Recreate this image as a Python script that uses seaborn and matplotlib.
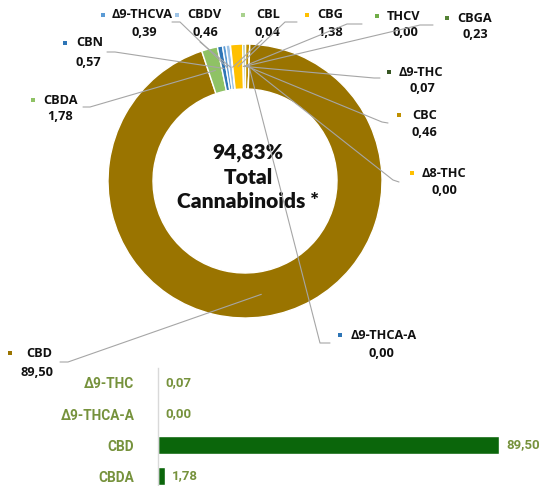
import matplotlib
matplotlib.use('Agg')
import matplotlib.pyplot as plt
import seaborn as sns
import pandas as pd
import numpy as np

# donut slices, clockwise from 12 o'clock
names = ['Δ9-THC', 'CBC', 'Δ8-THC', 'Δ9-THCA-A', 'CBD', 'CBDA', 'CBN',
         'Δ9-THCVA', 'CBDV', 'CBL', 'CBG', 'THCV', 'CBGA']
values = [0.07, 0.46, 0.00, 0.00, 89.50, 1.78, 0.57, 0.39, 0.46, 0.04, 1.38, 0.00, 0.23]
total_text = ['94,83%', 'Total', 'Cannabinoids *']

# small bar chart below
bar_names = ['Δ9-THC', 'Δ9-THCA-A', 'CBD', 'CBDA']
bar_values = [0.07, 0.00, 89.50, 1.78]

colors = {
    'Δ9-THC': '#375623', 'CBC': '#bf9000', 'Δ8-THC': '#ffc000',
    'Δ9-THCA-A': '#2e75b6', 'CBD': '#9a7400', 'CBDA': '#8fc265',
    'CBN': '#2e75b6', 'Δ9-THCVA': '#5b9bd5', 'CBDV': '#9dc3e6',
    'CBL': '#a9d18e', 'CBG': '#ffc000', 'THCV': '#70ad47', 'CBGA': '#548235',
}

# label placement in pixels: marker x, y, name x, value centre x, value y,
# leader line start points (stub)
label_pos = {
    'CBD':       (10, 353, 26, 37, 372, [(60, 362), (68, 362)]),
    'CBDA':      (33, 100, 43, 60, 116, [(83, 107), (90, 107)]),
    'CBN':       (65, 43, 76, 88, 62, [(107, 52), (115, 52)]),
    'Δ9-THCVA':  (103, 15, 112, 144, 32, [(172, 22), (180, 22)]),
    'CBDV':      (177, 15, 187, 205, 32, [(200, 42)]),
    'CBL':       (243, 15, 256, 267, 32, [(262, 40)]),
    'CBG':       (307, 15, 317, 330, 32, [(297, 22), (285, 22)]),
    'THCV':      (377, 16, 387, 405, 33, [(362, 24), (347, 24)]),
    'CBGA':      (447, 18, 457, 475, 35, [(433, 25), (420, 25)]),
    'Δ9-THC':    (389, 72, 399, 422, 88, [(380, 78), (374, 78)]),
    'CBC':       (399, 115, 412, 424, 132, [(388, 123), (382, 122)]),
    'Δ8-THC':    (412, 173, 422, 444, 190, [(399, 182), (393, 180)]),
    'Δ9-THCA-A': (340, 335, 351, 381, 353, [(330, 343), (320, 343)]),
}

def fmt(v):
    return f'{v:.2f}'.replace('.', ',')

sns.set_style('white')
plt.rcParams['font.family'] = ['Open Sans', 'DejaVu Sans']

fig = plt.figure(figsize=(5.41, 4.86), dpi=100)
ax = fig.add_axes([0, 0, 1, 1])

cx, cy, r_out, ring = 245, 181, 137, 45
wedges, _ = ax.pie(values, colors=[colors[n] for n in names], startangle=-90,
                   counterclock=True, radius=r_out, center=(cx, cy),
                   wedgeprops=dict(width=ring, edgecolor='white', linewidth=1))
ax.set_xlim(0, 541)
ax.set_ylim(486, 0)
ax.set_aspect('auto')
ax.axis('off')

# labels + leader lines
r_mid = r_out - ring / 2
for n, w in zip(names, wedges):
    mx, my, nx, vx, vy, stub = label_pos[n]
    t = np.deg2rad((w.theta1 + w.theta2) / 2)
    px, py = cx + r_mid * np.cos(t), cy + r_mid * np.sin(t)
    xs = [p[0] for p in stub] + [px]
    ys = [p[1] for p in stub] + [py]
    ax.plot(xs, ys, color='#a6a6a6', lw=0.8, zorder=4)
    ax.scatter([mx], [my], marker='s', s=10, color=colors[n], zorder=5, linewidths=0)
    ax.text(nx, my, n, fontsize=9.2, fontweight='bold', va='center', ha='left', color='#111111')
    ax.text(vx, vy, fmt(values[names.index(n)]), fontsize=9.2, fontweight='bold',
            va='center', ha='center', color='#111111')

for txt, y in zip(total_text, [152, 177, 201]):
    ax.text(248, y, txt, fontsize=15, fontweight='heavy', ha='center', va='center',
            color='#111111', family=['Lato', 'DejaVu Sans'])

# bar chart
bax = fig.add_axes([158 / 541, 1 - 491.5 / 486, 341 / 541, 124 / 486])
df = pd.DataFrame({'name': bar_names, 'value': bar_values})
sns.barplot(data=df, x='value', y='name', color='#0b660b', width=0.55,
            ax=bax, orient='h', saturation=1)
bax.set_xlim(0, 89.5)
bax.set_xlabel('')
bax.set_ylabel('')
bax.set_xticks([])
bax.patch.set_alpha(0)
for s in ['top', 'right', 'bottom']:
    bax.spines[s].set_visible(False)
bax.spines['left'].set_color('#d9d9d9')
bax.spines['left'].set_linewidth(1)
narrow = ['Roboto', 'DejaVu Sans']
bax.tick_params(axis='y', length=0, pad=17, labelcolor='#76923c')
for lbl in bax.get_yticklabels():
    lbl.set_fontweight('bold')
    lbl.set_family(narrow)
    lbl.set_fontsize(9.8)
bax.bar_label(bax.containers[0], labels=[fmt(v) for v in bar_values], padding=5,
              color='#76923c', fontsize=9.5, fontweight='bold', family=narrow)

fig.savefig('out.png', dpi=100, facecolor='white')
